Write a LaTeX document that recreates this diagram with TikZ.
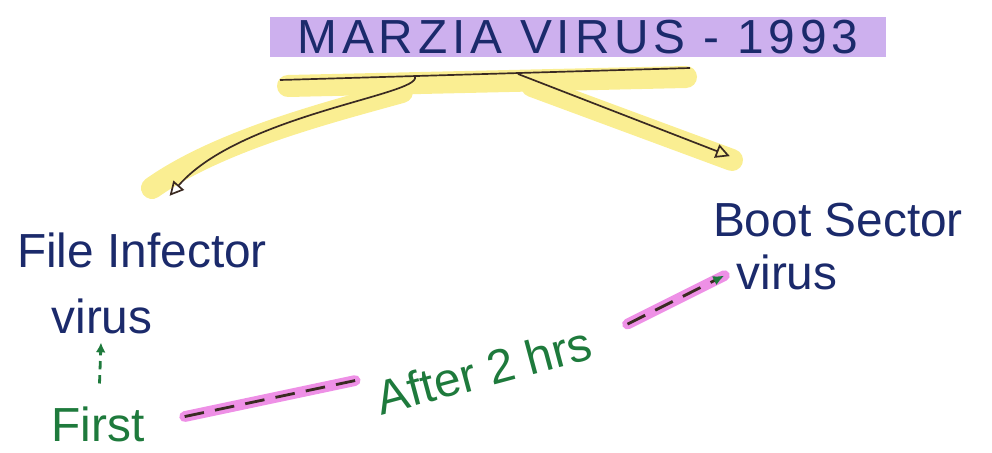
\documentclass[tikz,border=0pt]{standalone}
\usepackage{fontspec}
\setmainfont{Liberation Sans}
\usetikzlibrary{arrows.meta, positioning}
\definecolor{ink}{HTML}{1B2A6B}
\definecolor{penGreen}{HTML}{1E7A3C}
\definecolor{hlPurple}{HTML}{CDB0EE}
\definecolor{hlYellow}{HTML}{FAEE92}
\definecolor{hlPink}{HTML}{EE90E6}
\definecolor{dashInk}{HTML}{3A2A22}

\begin{document}
\begin{tikzpicture}[x=0.025cm, y=-0.025cm,
        heading/.style={fill=hlPurple, text=ink, minimum width=15.4cm,
            minimum height=0.95cm, text centered, inner sep=2pt,
            font=\fontsize{34}{36}\selectfont\addfontfeature{LetterSpace=10}},
        label/.style={text=ink, font=\fontsize{34}{38}\selectfont},
        note/.style={text=penGreen, font=\fontsize{34}{38}\selectfont},
        marker/.style={line width=0.55cm, hlYellow, line cap=round},
        bar/.style={dashInk, line width=1.2pt},
        branch/.style={-{Triangle[open, length=10pt, width=10pt]}, dashInk, line width=1.2pt},
        uparrow/.style={-{Latex[length=7pt, width=7pt]}, penGreen, line width=2pt,
            dash pattern=on 6pt off 4pt},
        timeline/.style={dashInk, line width=2pt, dash pattern=on 14pt off 8pt,
            preaction={draw=hlPink, line width=0.27cm, solid, line cap=round, -}},
    ]
        \useasboundingbox (0,0) rectangle (992,453);

        % Title
        \node[heading] (title) at (578,37) {MARZIA VIRUS - 1993};

        % Highlighter under the branches
        \draw[marker] (288,86) -- (686,77);
        \draw[marker] (402,92) .. controls (330,112) and (220,140) .. (152,188);
        \draw[marker] (532,86) -- (732,160);

        % Bar and fork points
        \coordinate (barL) at (280,80);
        \coordinate (barR) at (690,68);
        \coordinate (forkL) at (415,77);
        \coordinate (forkR) at (518,74);
        \draw[bar] (barL) -- (barR);

        % Virus types
        \node[label] (fileinf) at (142,250) {File Infector};
        \node[label] (filevirus) at (102,316) {virus};
        \node[label] (bootname) at (838,220) {Boot Sector};
        \node[label] (bootvirus) at (787,272) {virus};

        % Time notes
        \node[note] (first) at (98,424) {First};
        \node[note, rotate=15] (after) at (484,370) {After 2 hrs};

        % Branches
        \draw[branch, shorten >=1.05cm] (forkL) .. controls (420,95) and (240,115) .. (fileinf.north);
        \draw[branch, shorten >=2.9cm] (forkR) -- (bootname.north);

        % Spread
        \draw[uparrow, shorten <=0.45cm, shorten >=0.1cm] (first) -- (filevirus);
        \draw[timeline, shorten <=0.9cm, shorten >=0.3cm] (first.east) -- (after.north west);
        \draw[timeline, -{Latex[color=penGreen, length=8pt, width=7pt]}, shorten <=0.9cm, shorten >=0.2cm] (after.east) -- (bootvirus.west);
    \end{tikzpicture}
\end{document}
